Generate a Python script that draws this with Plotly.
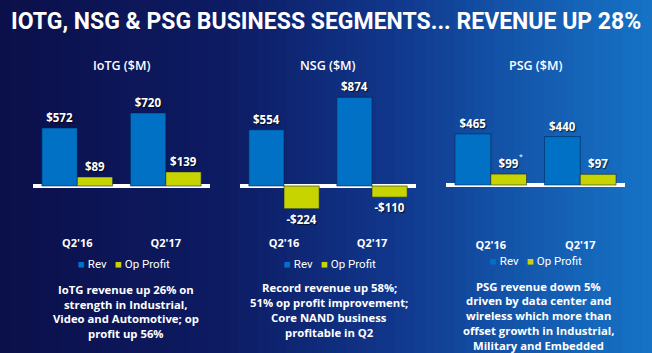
import plotly.graph_objects as go
import numpy as np

# ---- data ----
categories = ["Q2'16", "Q2'17"]
segments = ["IoTG ($M)", "NSG ($M)", "PSG ($M)"]
rev_iotg = [572, 720]
op_iotg = [89, 139]
rev_nsg = [554, 874]
op_nsg = [-224, -110]
rev_psg = [465, 440]
op_psg = [99, 97]
series_names = ["Rev", "Op Profit"]
notes = [
    ["IoTG revenue up 26% on", "strength in Industrial,", "Video and Automotive; op", "profit up 56%"],
    ["Record revenue up 58%;", "51% op profit improvement;", "Core NAND business", "profitable in Q2"],
    ["PSG revenue down 5%", "driven by data center and", "wireless which more than",
     "offset growth in Industrial,", "Military and Embedded"],
]
main_title = "IOTG, NSG &amp; PSG BUSINESS SEGMENTS... REVENUE UP 28%"

REV_C = "#0071c5"
OP_C = "#c8d400"
W, H = 652, 353

def money(v):
    return f"-${abs(v)}" if v < 0 else f"${v}"

fig = go.Figure()

panels = [
    (rev_iotg, op_iotg, (33, 210), (83, 228), [-414, 1015], (124, 264), (126, 289.3)),
    (rev_nsg, op_nsg, (240, 416), (83, 228), [-414, 1015], (330, 264), (329, 287.7)),
    (rev_psg, op_psg, (446, 625), (75, 230), [-409, 1000], (536, 261), (538, 286)),
]

shadow = "1px 1px 1px rgba(0,0,0,0.7)"
for i, (rv, op, (xa, xb), (ya, yb), yr, (lx, ly), (nx, ny)) in enumerate(panels):
    n = i + 1
    xs = "x" if n == 1 else f"x{n}"
    ys = "y" if n == 1 else f"y{n}"
    for vals, name, col in ((rv, series_names[0], REV_C), (op, series_names[1], OP_C)):
        fig.add_trace(go.Bar(
            x=categories, y=vals, name=name, xaxis=xs, yaxis=ys, showlegend=False,
            marker=dict(color=col, line=dict(color="rgba(0,30,80,0.55)", width=1)),
            text=[money(v) for v in vals], textposition="outside", cliponaxis=False,
            textfont=dict(color="white", size=11.5, family="Open Sans", weight="bold", shadow=shadow),
        ))
    ax = dict(domain=[xa / W, xb / W], anchor=ys, showgrid=False, zeroline=False,
              showline=False, ticks="", ticklabelstandoff=7,
              tickfont=dict(color="white", size=11, family="Open Sans", weight="bold"))
    ay = dict(domain=[1 - yb / H, 1 - ya / H], anchor=xs, range=yr, showgrid=False,
              showticklabels=False, zeroline=True, zerolinecolor="white", zerolinewidth=4,
              layer="above traces")
    fig.update_layout(**{("xaxis" if n == 1 else f"xaxis{n}"): ax,
                         ("yaxis" if n == 1 else f"yaxis{n}"): ay})
    # compact legend
    leg = (f"<span style='color:{REV_C}'>■</span> {series_names[0]}   "
           f"<span style='color:{OP_C}'>■</span> {series_names[1]}")
    fig.add_annotation(text=leg, xref="paper", yref="paper", x=lx / W, y=1 - ly / H,
                       showarrow=False, xanchor="center", yanchor="middle",
                       font=dict(color="white", size=11.5, family="Roboto"))
    # panel background
    fig.add_shape(type="rect", xref=f"{xs} domain", yref=f"{ys} domain", x0=0, x1=1, y0=0, y1=1,
                  fillcolor="rgba(0,0,25,0.30)", line_width=0, layer="below")
    # segment title
    fig.add_annotation(text=segments[i], xref="paper", yref="paper", x=(xa + xb) / 2 / W,
                       y=1 - 65 / H, showarrow=False, xanchor="center", yanchor="middle",
                       font=dict(color="white", size=12.5, family="Open Sans", weight=600))
    # note lines
    for k, line in enumerate(notes[i]):
        fig.add_annotation(text=line, xref="paper", yref="paper", x=nx / W,
                           y=1 - (ny + k * 14.8) / H, showarrow=False, xanchor="center",
                           yanchor="middle",
                           font=dict(color="white", size=11.3, family="Open Sans", weight="bold"))

# asterisk near PSG $99
fig.add_annotation(text="*", xref="paper", yref="paper", x=525 / W, y=1 - 156 / H,
                   showarrow=False, font=dict(color="white", size=7))

# main title
fig.add_annotation(text=main_title, xref="paper", yref="paper", x=0.5, y=1 - 22 / H,
                   showarrow=False, xanchor="center", yanchor="middle",
                   font=dict(color="white", size=23, family="Roboto", weight="bold"))

# background gradient stripes (decoration)
stops = [(0.0, (12, 16, 74)), (0.35, (14, 28, 100)), (0.6, (17, 55, 140)),
         (0.8, (20, 88, 172)), (1.0, (22, 116, 198))]
N = 66
for k in range(N):
    t = (k + 0.5) / N
    c = [int(np.interp(t, [s[0] for s in stops], [s[1][j] for s in stops])) for j in range(3)]
    fig.add_shape(type="rect", xref="paper", yref="paper", x0=k / N, x1=(k + 1) / N + 0.002,
                  y0=0, y1=1, fillcolor=f"rgb({c[0]},{c[1]},{c[2]})", line_width=0, layer="below")

fig.update_layout(width=W, height=H, margin=dict(l=0, r=0, t=0, b=0),
                  paper_bgcolor="#0b1048", plot_bgcolor="rgba(0,0,0,0)",
                  barmode="group", bargap=0.2, bargroupgap=0, showlegend=False)

fig.write_html("out.html")
